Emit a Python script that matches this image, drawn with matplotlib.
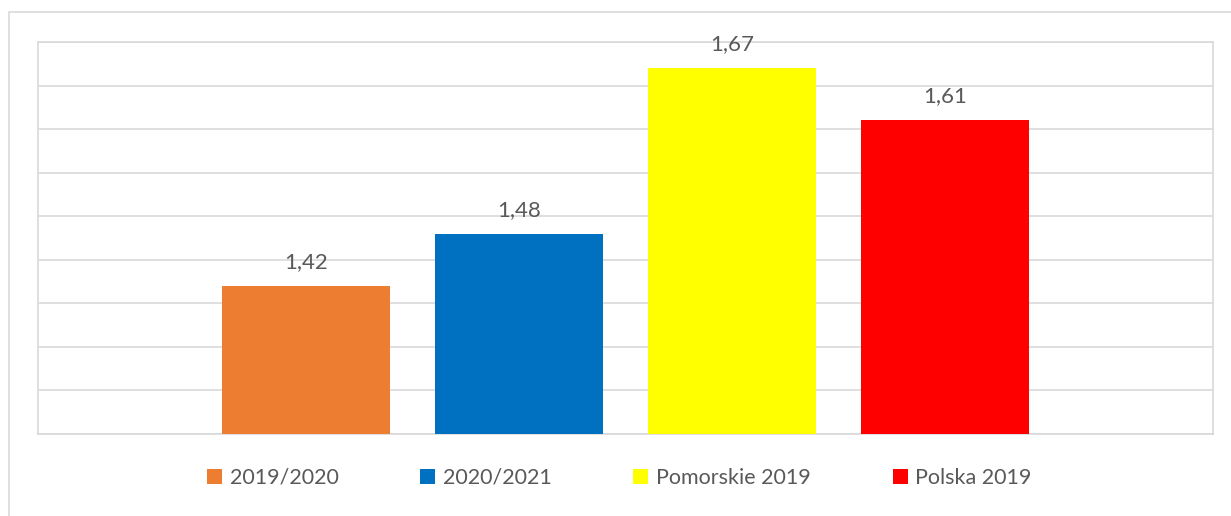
#!/usr/bin/env python3
import matplotlib.pyplot as plt
from matplotlib.patches import Rectangle, Patch

OUTPUT_FILE = "out.png"

series = ["2019/2020", "2020/2021", "Pomorskie 2019", "Polska 2019"]
values = [1.42, 1.48, 1.67, 1.61]
colors = ["#ED7D31", "#0070C0", "#FFFF00", "#FF0000"]

GRID = "#D9D9D9"
TEXT = "#595959"


def plot_chart():
    plt.rcParams["font.family"] = ["Lato", "DejaVu Sans"]
    fig = plt.figure(figsize=(12.31, 5.16), dpi=100)

    # outer chart frame
    fig.patches.append(Rectangle((8.5 / 1231, -0.1), 1.2, (516 - 11.5) / 516 + 0.1,
                                 transform=fig.transFigure, fill=False,
                                 edgecolor=GRID, linewidth=1.2))

    ax = fig.add_axes([38 / 1231, 82 / 516, (1213 - 38) / 1231, (474 - 82) / 516])
    x = list(range(len(values)))
    ax.bar(x, values, width=0.787, color=colors, zorder=3)
    for xi, v in zip(x, values):
        ax.annotate(f"{v:.2f}".replace(".", ","), (xi, v), xytext=(0, 10),
                    textcoords="offset points", ha="center", va="bottom",
                    fontsize=16, color=TEXT)

    ax.set_xlim(-1.255, 4.255)
    ax.set_ylim(1.25, 1.70)
    ax.set_yticks([1.25 + 0.05 * i for i in range(10)])
    ax.yaxis.grid(True, color=GRID, linewidth=1.2, zorder=0)
    ax.tick_params(left=False, bottom=False, labelleft=False, labelbottom=False)
    for s in ax.spines.values():
        s.set_color(GRID)
        s.set_linewidth(1.2)

    handles = [Patch(facecolor=c, edgecolor="none") for c in colors]
    fig.legend(handles, series, loc="center", bbox_to_anchor=(0.503, 38 / 516),
               ncol=4, frameon=False, fontsize=15.5, labelcolor=TEXT,
               handlelength=0.7, handleheight=0.7, handletextpad=0.35,
               columnspacing=3.8)

    fig.savefig(OUTPUT_FILE)


if __name__ == "__main__":
    plot_chart()
